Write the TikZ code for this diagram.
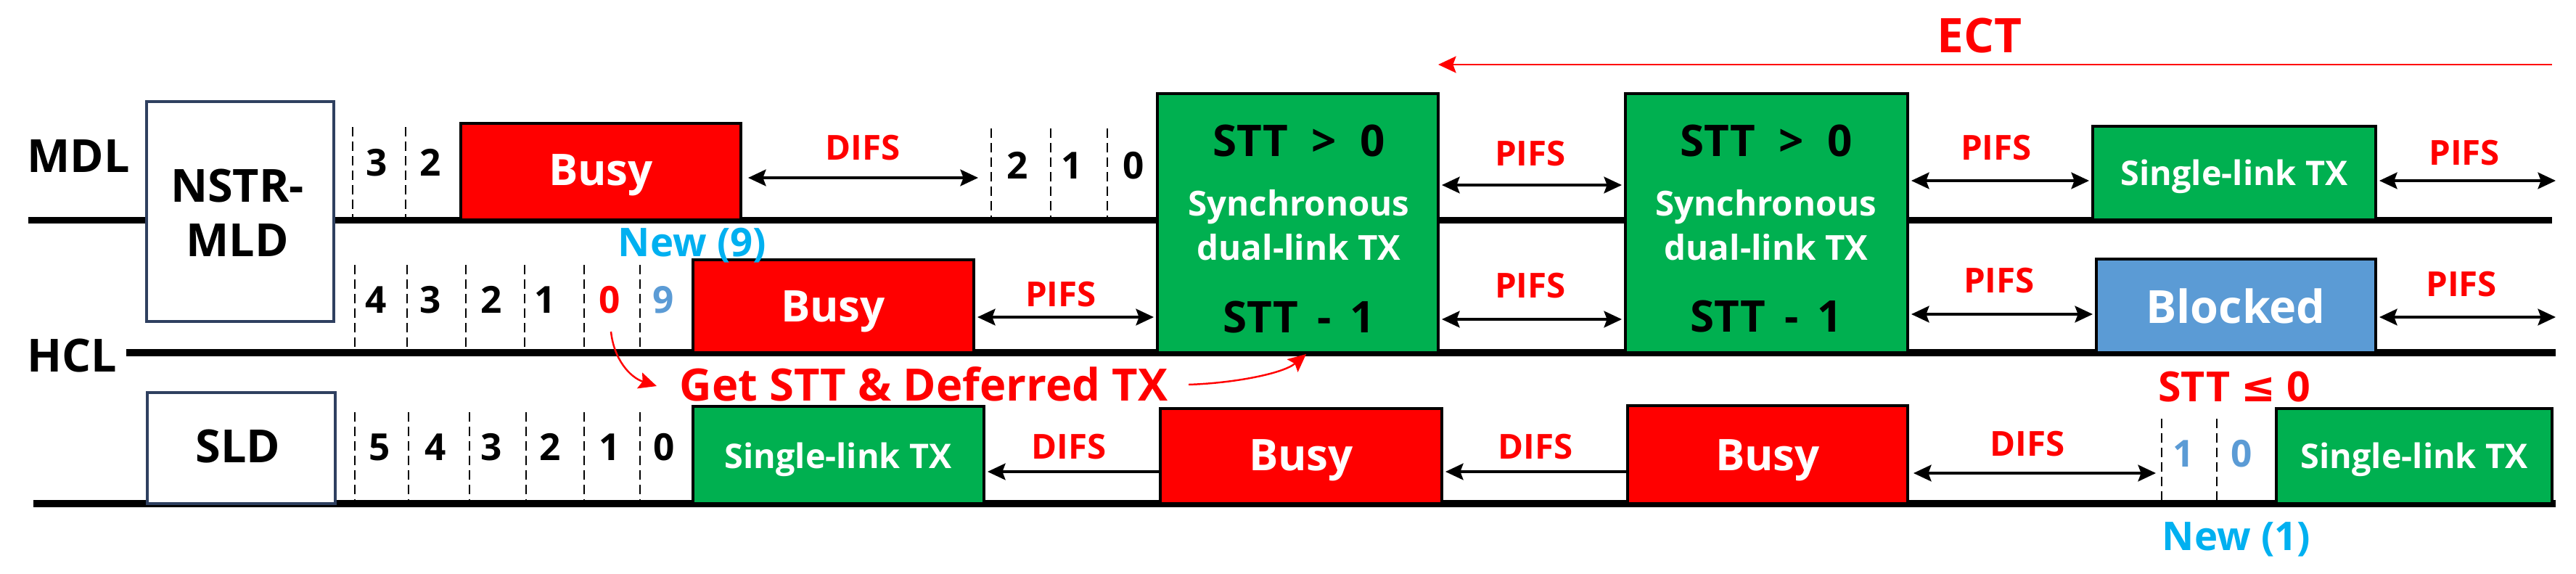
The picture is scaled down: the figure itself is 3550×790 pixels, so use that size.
\documentclass[tikz,border=0pt]{standalone}
\usepackage{fontspec}
\setmainfont{Open Sans}
\newfontfamily\symfont{DejaVu Sans}
\usetikzlibrary{arrows.meta}
\definecolor{pptred}{RGB}{255,0,0}
\definecolor{pptgreen}{RGB}{0,176,80}
\definecolor{pptblue}{RGB}{91,155,213}
\definecolor{pptcyan}{RGB}{0,176,240}
\definecolor{frameblue}{RGB}{47,64,96}
\tikzset{
  fs/.style={font=\fontsize{#1}{#1}\selectfont\bfseries},
  tline/.style={line width=2.6pt},
  dline/.style={line width=0.8pt, dash pattern=on 3.7pt off 2pt},
  tbox/.style={draw=black, line width=1.3pt, inner sep=0pt, outer sep=0pt, anchor=north west},
  busybox/.style={tbox, fill=pptred},
  txbox/.style={tbox, fill=pptgreen},
  blockbox/.style={tbox, fill=pptblue},
  devbox/.style={draw=frameblue, line width=1pt, fill=white, inner sep=0pt, outer sep=0pt, anchor=north west},
  lbl/.style={anchor=base, inner sep=0pt, fs=17.9},
  wtxt/.style={anchor=base, inner sep=0pt, text=white, fs=#1},
  btxt/.style={anchor=base, inner sep=0pt, text=black, fs=#1},
  rtxt/.style={anchor=base, inner sep=0pt, text=pptred, fs=#1},
  ctxt/.style={anchor=base, inner sep=0pt, text=pptcyan, fs=#1},
  digit/.style={anchor=base, inner sep=0pt, fs=14.6},
  dbl/.style={line width=0.9pt, {Stealth[length=7pt,width=6.5pt,inset=1.2pt]}-{Stealth[length=7pt,width=6.5pt,inset=1.2pt]}, shorten <=0.5mm, shorten >=0.5mm},
  larrow/.style={line width=0.9pt, -{Stealth[length=7pt,width=6.5pt,inset=1.2pt]}, shorten >=0.5mm},
  redarrow/.style={draw=pptred, line width=0.7pt, -{Stealth[length=7pt,width=6.5pt,inset=1.2pt]}},
}
\begin{document}
\begin{tikzpicture}[x=0.1mm,y=-0.1mm]
\useasboundingbox (0,0) rectangle (3550,790);

% timelines
\coordinate (mdlL) at (39,303.5);
\coordinate (mdlR) at (3517,303.5);
\coordinate (hclL) at (174,486);
\coordinate (hclR) at (3522,486);
\coordinate (sldL) at (46,694);
\coordinate (sldR) at (3522,694);
\draw[tline] (mdlL) -- (mdlR);
\draw[tline] (hclL) -- (hclR);
\draw[tline] (sldL) -- (sldR);

% row labels
\node[lbl] (mdl) at (108,237) {MDL};
\node[lbl] (hcl) at (99,512) {HCL};

% devices
\node[devbox, minimum width=25.8mm, minimum height=30.3mm] (nstr) at (202,140) {};
\node[lbl] (nstrA) at (327,278) {NSTR-};
\node[lbl] (nstrB) at (327,353) {MLD};
\node[devbox, minimum width=25.9mm, minimum height=15.3mm] (sld) at (203,541) {};
\node[lbl] (sldT) at (328,637) {SLD};

% dashed slot lines
\foreach \x in {486,559} \draw[dline] (\x,175) -- (\x,299);
\foreach \x in {1366,1448,1526} \draw[dline] (\x,177) -- (\x,299);
\foreach \x in {489,561,642,723,805,882} \draw[dline] (\x,365) -- (\x,482);
\foreach \x in {489,563,647,725,805,882} \draw[dline] (\x,568) -- (\x,690);
\foreach \x in {2979,3055} \draw[dline] (\x,577) -- (\x,690);
\coordinate (dM) at (1366,245);
\coordinate (dS) at (2979,652);

% digits
\node[digit] (m3) at (519,242) {3};
\node[digit] (m2) at (593,242) {2};
\node[digit] (mb2) at (1402,246) {2};
\node[digit] (mb1) at (1477,246) {1};
\node[digit] (mb0) at (1562,246) {0};
\node[digit] (h4) at (518,431) {4};
\node[digit] (h3) at (593,431) {3};
\node[digit] (h2) at (677,431) {2};
\node[digit] (h1) at (751,431) {1};
\node[digit, text=pptred] (h0) at (840,431) {0};
\node[digit, text=pptblue] (h9) at (914,431) {9};
\node[digit] (s5) at (523,634) {5};
\node[digit] (s4) at (600,634) {4};
\node[digit] (s3) at (677,634) {3};
\node[digit] (s2) at (758,634) {2};
\node[digit] (s1) at (840,634) {1};
\node[digit] (s0) at (915,634) {0};
\node[digit, text=pptblue] (sb1) at (3009,643) {1};
\node[digit, text=pptblue] (sb0) at (3089,643) {0};

% MDL boxes
\node[busybox, minimum width=38.6mm, minimum height=13.3mm] (busyM) at (635,170) {};
\node[wtxt=17.1] (busyMT) at (828,255) {Busy};
\node[txbox, minimum width=38.7mm, minimum height=35.7mm] (sync1) at (1595,129) {};
\node[txbox, minimum width=38.9mm, minimum height=35.7mm] (sync2) at (2240,129) {};
\node[txbox, minimum width=39mm, minimum height=12.9mm] (singM) at (2884,174) {};
\node[wtxt=13.3] (singMT) at (3079,255) {Single-link TX};

% sync texts
\node[btxt=17.1] (s1a) at (1790,215) {STT \;>\ \;0};
\node[wtxt=13.5] (s1b) at (1790,297) {Synchronous};
\node[wtxt=13.5] (s1c) at (1790,358) {dual-link TX};
\node[btxt=17.1] (s1d) at (1790,458) {STT \,-\, 1};
\node[btxt=17.1] (s2a) at (2434,215) {STT \;>\ \;0};
\node[wtxt=13.5] (s2b) at (2434,297) {Synchronous};
\node[wtxt=13.5] (s2c) at (2434,358) {dual-link TX};
\node[btxt=17.1] (s2d) at (2434,457) {STT \,-\, 1};

% HCL boxes
\node[busybox, minimum width=38.7mm, minimum height=12.8mm] (busyH) at (955,358) {};
\node[wtxt=17.1] (busyHT) at (1148,443) {Busy};
\node[blockbox, minimum width=38.5mm, minimum height=12.9mm] (blocked) at (2889,357) {};
\node[wtxt=17.9] (blockedT) at (3081,445) {Blocked};

% SLD boxes
\node[txbox, minimum width=40.1mm, minimum height=13.4mm] (singS1) at (955,560) {};
\node[wtxt=13.3] (singS1T) at (1155,645) {Single-link TX};
\node[busybox, minimum width=38.8mm, minimum height=13.1mm] (busyS1) at (1599,563) {};
\node[wtxt=17.1] (busyS1T) at (1793,648) {Busy};
\node[busybox, minimum width=38.6mm, minimum height=13.5mm] (busyS2) at (2243,559) {};
\node[wtxt=17.1] (busyS2T) at (2436,648) {Busy};
\node[txbox, minimum width=38mm, minimum height=13.1mm] (singS2) at (3137,563) {};
\node[wtxt=13.3] (singS2T) at (3327,645) {Single-link TX};

% labels
\node[rtxt=13.5] (difsM) at (1189,220) {DIFS};
\node[rtxt=13.5] (pifsM1) at (2109,228) {PIFS};
\node[rtxt=13.5] (pifsM2) at (2751,220) {PIFS};
\node[rtxt=13.5] (pifsM3) at (3396,227) {PIFS};
\node[rtxt=13.5] (pifsH1) at (1462,422) {PIFS};
\node[rtxt=13.5] (pifsH2) at (2109,410) {PIFS};
\node[rtxt=13.5] (pifsH3) at (2755,403) {PIFS};
\node[rtxt=13.5] (pifsH4) at (3392,408) {PIFS};
\node[rtxt=13.5] (difsS1) at (1473,632) {DIFS};
\node[rtxt=13.5] (difsS2) at (2116,632) {DIFS};
\node[rtxt=13.5] (difsS3) at (2794,628) {DIFS};
\node[rtxt=17.5] (get) at (1273,552) {Get STT \& Deferred TX};
\node[rtxt=16.3] (sttle) at (3079,553) {STT {\symfont ≤} 0};
\node[ctxt=15.5] (new9) at (954,353) {New (9)};
\node[ctxt=15.5] (new1) at (3082,758) {New (1)};
\node[rtxt=18.7] (ect) at (2728,72) {ECT};

% connectors
\draw[dbl, shorten <=1mm, shorten >=1.8mm] (busyM.east |- dM) -- (dM);
\draw[dbl] (sync1.east |- 0,255) -- (sync2.west |- 0,255);
\draw[dbl] (sync2.east |- 0,249) -- (singM.west |- 0,249);
\coordinate (endM) at (3522,249);
\draw[dbl, shorten >=0pt] (singM.east |- endM) -- (endM);
\draw[dbl] (busyH.east |- 0,437) -- (sync1.west |- 0,437);
\draw[dbl] (sync1.east |- 0,440) -- (sync2.west |- 0,440);
\draw[dbl] (sync2.east |- 0,433) -- (blocked.west |- 0,433);
\coordinate (endH) at (3522,437);
\draw[dbl, shorten >=0pt] (blocked.east |- endH) -- (endH);
\draw[larrow] (busyS1.west |- 0,650) -- (singS1.east |- 0,650);
\draw[larrow] (busyS2.west |- 0,650) -- (busyS1.east |- 0,650);
\draw[dbl, shorten <=0.8mm, shorten >=0.8mm] (busyS2.east |- dS) -- (dS);

% ECT
\coordinate (ectR) at (3517,89);
\draw[redarrow] (ectR) -- (sync1.east |- ectR);

% curved red arrows
\coordinate (c1s) at (842,457);
\coordinate (c1e) at (905,532);
\draw[redarrow] (c1s) .. controls (846,495) and (868,520) .. (c1e);
\coordinate (c2s) at (1638,530);
\coordinate (c2e) at (1800,488);
\draw[redarrow] (c2s) .. controls (1700,528) and (1768,515) .. (c2e);
\end{tikzpicture}
\end{document}
